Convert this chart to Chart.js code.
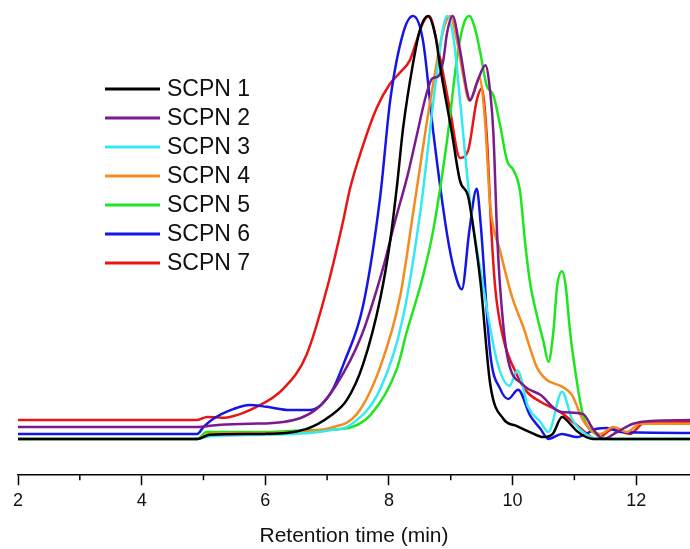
<!DOCTYPE html>
<html lang="en">
<head>
  <meta charset="UTF-8" />
  <title>SCPN retention time</title>
  <style>
    body { margin: 0; background: #fff; }
    canvas { display: block; }
  </style>
</head>
<body>
  <canvas id="gpc" width="690" height="549"></canvas>

  <script src="https://cdn.jsdelivr.net/npm/chart.js"></script>
  <script>
    // series labels and colours
    const names = ['SCPN 1', 'SCPN 2', 'SCPN 3', 'SCPN 4', 'SCPN 5', 'SCPN 6', 'SCPN 7'];
    const colors = ['#000000', '#7a1a8c', '#33eaf0', '#f58a1f', '#1ee61e', '#1515e6', '#e81515'];

    // retention time (min) / normalised signal
    const timeS1 = [2.00, 4.90, 5.10, 6.00, 6.67, 7.05, 7.32, 7.58, 7.86, 8.02, 8.13, 8.23, 8.39, 8.50, 8.63, 8.75, 8.83, 9.02, 9.15, 9.28, 9.36, 9.48, 9.64, 9.85, 10.07, 10.28, 10.50, 10.65, 10.80, 10.93, 11.04, 11.30, 12.87];
    const sigS1  = [7.9, 7.9, 8.8, 9.0, 10.1, 12.9, 16.4, 24.1, 38.5, 51.0, 63.0, 75.7, 89.7, 96.9, 100, 95.8, 88.8, 74.4, 64.1, 60.8, 54.3, 42.2, 19.7, 12.3, 10.7, 9.4, 8.3, 9.0, 12.7, 11.2, 9.6, 7.9, 7.9];

    const timeS2 = [2.00, 4.90, 5.20, 5.75, 6.29, 6.83, 7.15, 7.55, 7.90, 8.10, 8.30, 8.45, 8.60, 8.70, 8.80, 8.88, 8.94, 9.03, 9.15, 9.26, 9.31, 9.42, 9.56, 9.64, 9.69, 9.75, 9.80, 9.91, 10.17, 10.45, 10.77, 11.14, 11.30, 11.47, 11.69, 11.95, 12.23, 12.87];
    const sigS2  = [10.5, 10.5, 10.9, 11.2, 11.6, 14.4, 19.7, 30.2, 44.9, 55.4, 65.2, 74.0, 82.7, 86.4, 86.9, 90.4, 96.3, 100, 92.6, 83.8, 81.6, 85.3, 89.3, 83.2, 74.4, 52.5, 40.7, 26.3, 19.7, 17.5, 13.8, 13.3, 10.1, 7.9, 9.4, 11.2, 11.8, 12.0];

    const timeS3 = [2.00, 4.90, 5.10, 6.00, 6.72, 7.05, 7.37, 7.86, 8.22, 8.52, 8.72, 8.88, 8.94, 9.05, 9.15, 9.31, 9.53, 9.75, 9.95, 10.08, 10.25, 10.45, 10.58, 10.80, 10.96, 11.20, 11.42, 12.87];
    const sigS3  = [7.9, 7.9, 8.5, 8.8, 9.2, 9.8, 10.9, 18.8, 33.9, 58.6, 81.6, 97.6, 100, 94.7, 81.6, 59.7, 40.7, 24.7, 19.5, 22.8, 14.9, 11.6, 9.4, 18.2, 12.3, 8.8, 7.9, 7.9];

    const timeS4 = [2.00, 4.90, 5.10, 6.00, 6.72, 7.05, 7.48, 7.86, 8.18, 8.42, 8.67, 8.88, 8.99, 9.10, 9.20, 9.30, 9.38, 9.46, 9.55, 9.64, 9.80, 9.99, 10.17, 10.39, 10.55, 10.80, 10.96, 11.14, 11.30, 11.42, 11.63, 11.85, 12.06, 12.87];
    const sigS4  = [7.9, 7.9, 9.0, 9.2, 9.6, 10.3, 13.3, 23.6, 38.9, 59.7, 81.6, 96.9, 100, 94.7, 87.1, 81.6, 83.6, 86.7, 78.0, 58.6, 48.8, 38.9, 32.4, 23.6, 20.8, 19.3, 17.5, 12.0, 9.4, 9.0, 10.5, 9.4, 11.2, 11.2];

    const timeS5 = [2.00, 4.90, 5.05, 6.00, 6.72, 7.26, 7.70, 8.13, 8.29, 8.55, 8.72, 8.94, 9.12, 9.22, 9.30, 9.40, 9.48, 9.58, 9.69, 9.80, 9.91, 10.02, 10.12, 10.20, 10.28, 10.39, 10.50, 10.58, 10.66, 10.72, 10.80, 10.86, 10.93, 11.04, 11.14, 11.36, 11.60, 12.87];
    const sigS5  = [7.9, 7.9, 9.4, 9.4, 9.8, 10.1, 13.1, 23.2, 31.3, 43.3, 53.6, 72.9, 92.6, 98.7, 100, 96.9, 91.9, 84.9, 82.7, 76.1, 68.5, 66.3, 61.9, 51.0, 42.2, 35.0, 29.1, 24.7, 31.3, 41.1, 44.4, 41.1, 31.3, 20.4, 13.1, 8.8, 7.9, 7.9];

    const timeS6 = [2.00, 4.90, 5.00, 5.16, 5.48, 5.75, 6.02, 6.40, 6.72, 7.05, 7.28, 7.58, 7.86, 8.02, 8.23, 8.39, 8.55, 8.72, 8.94, 9.06, 9.18, 9.30, 9.42, 9.48, 9.64, 9.80, 9.93, 10.09, 10.28, 10.45, 10.58, 10.80, 11.04, 11.36, 11.53, 11.74, 12.87];
    const sigS6  = [9.0, 9.0, 10.5, 12.3, 14.4, 15.3, 14.9, 14.2, 14.2, 17.7, 24.7, 36.8, 60.8, 81.6, 96.3, 100, 94.7, 74.4, 52.5, 44.4, 40.5, 53.2, 62.4, 55.4, 26.3, 18.8, 16.6, 18.6, 13.1, 10.1, 7.9, 9.0, 8.3, 10.1, 10.3, 9.4, 9.2];

    const timeS7 = [2.00, 4.90, 5.06, 5.30, 5.86, 6.29, 6.67, 7.02, 7.26, 7.37, 7.58, 7.80, 8.02, 8.18, 8.34, 8.45, 8.55, 8.65, 8.80, 8.99, 9.15, 9.28, 9.42, 9.50, 9.58, 9.66, 9.72, 9.85, 10.07, 10.23, 10.45, 10.77, 11.04, 11.36, 11.63, 11.90, 12.11, 12.87];
    const sigS7  = [12.0, 12.0, 12.7, 12.5, 14.9, 18.8, 26.3, 41.8, 55.4, 62.4, 71.8, 79.9, 85.3, 87.7, 90.4, 94.7, 98.5, 100, 92.6, 79.4, 69.1, 70.7, 81.6, 84.2, 74.4, 52.5, 40.7, 29.8, 21.9, 18.2, 16.0, 13.8, 10.9, 7.9, 10.1, 9.0, 11.2, 11.6];

    const xTicksMajor = [2, 4, 6, 8, 10, 12];
    const xTicksMinor = [3, 5, 7, 9, 11];

    const times = [timeS1, timeS2, timeS3, timeS4, timeS5, timeS6, timeS7];
    const signals = [sigS1, sigS2, sigS3, sigS4, sigS5, sigS6, sigS7];

    const FONT = "'Liberation Sans', Arial, sans-serif";

    // short ticks at odd minutes
    const minorTicks = {
      id: 'minorTicks',
      afterDraw(chart) {
        const sx = chart.scales.x;
        const ctx = chart.ctx;
        const y0 = chart.chartArea.bottom;
        ctx.save();
        ctx.strokeStyle = '#000';
        ctx.lineWidth = 1.5;
        xTicksMinor.forEach(v => {
          const px = sx.getPixelForValue(v);
          ctx.beginPath();
          ctx.moveTo(px, y0);
          ctx.lineTo(px, y0 + 5);
          ctx.stroke();
        });
        ctx.restore();
      }
    };

    // legend drawn inside the plot, top left
    const innerLegend = {
      id: 'innerLegend',
      afterDraw(chart) {
        const ctx = chart.ctx;
        ctx.save();
        ctx.font = '23px ' + FONT;
        ctx.textBaseline = 'middle';
        ctx.textAlign = 'left';
        chart.data.datasets.forEach((ds, i) => {
          const y = 89 + i * 29;
          ctx.strokeStyle = ds.borderColor;
          ctx.lineWidth = 3;
          ctx.beginPath();
          ctx.moveTo(105, y);
          ctx.lineTo(160, y);
          ctx.stroke();
          ctx.fillStyle = '#111';
          ctx.fillText(ds.label, 167, y + 1);
        });
        ctx.restore();
      }
    };

    const datasets = names.map((name, i) => ({
      label: name,
      data: times[i].map((t, j) => ({ x: t, y: signals[i][j] })),
      borderColor: colors[i],
      borderWidth: 2.5,
      pointRadius: 0,
      fill: false,
      cubicInterpolationMode: 'monotone'
    }));

    new Chart(document.getElementById('gpc'), {
      type: 'line',
      data: { datasets },
      plugins: [minorTicks, innerLegend],
      options: {
        responsive: false,
        animation: false,
        layout: { padding: { left: 18, right: 0, top: 0, bottom: 0 } },
        plugins: {
          legend: { display: false },
          tooltip: { enabled: false }
        },
        scales: {
          x: {
            type: 'linear',
            min: 2,
            max: 12.87,
            afterBuildTicks: axis => { axis.ticks = xTicksMajor.map(v => ({ value: v })); },
            ticks: {
              includeBounds: false,
              padding: 5,
              color: '#111',
              font: { family: FONT, size: 18 },
              maxRotation: 0
            },
            grid: {
              drawOnChartArea: false,
              drawTicks: true,
              tickLength: 10,
              tickWidth: 1.5,
              tickColor: '#000'
            },
            border: { display: true, color: '#000', width: 1.5 },
            title: {
              display: true,
              text: 'Retention time (min)',
              color: '#111',
              font: { family: FONT, size: 21 },
              padding: { top: 7, bottom: 0 }
            }
          },
          y: {
            display: false,
            min: 0,
            max: 103.5
          }
        }
      }
    });
  </script>
</body>
</html>
